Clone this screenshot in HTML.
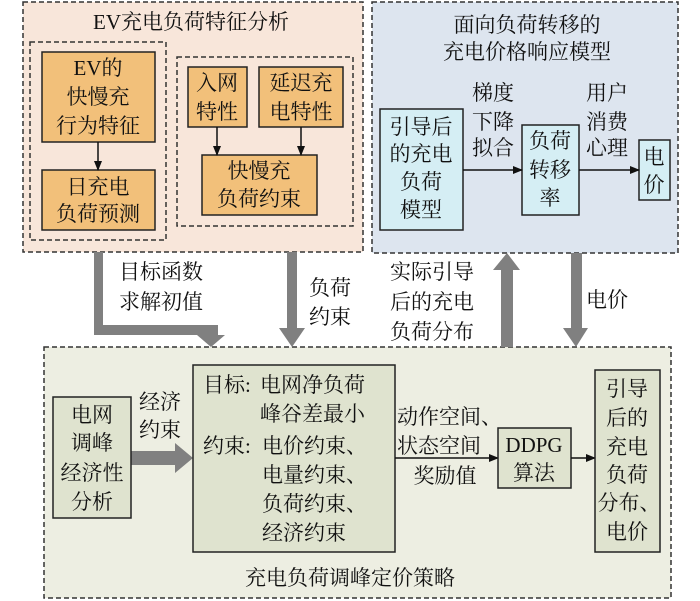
<!DOCTYPE html>
<html><head><meta charset="utf-8"><style>
html,body{margin:0;padding:0;background:#fff;}
svg{display:block;}
text{font-family:"Liberation Serif","Noto Serif CJK SC",serif;font-size:21px;fill:#111;dominant-baseline:central;}
.m{text-anchor:middle;}
</style></head><body>
<svg width="700" height="601" viewBox="0 0 700 601" xmlns="http://www.w3.org/2000/svg">
<defs>
<marker id="ah" markerWidth="10" markerHeight="10" refX="9" refY="5" orient="auto" markerUnits="userSpaceOnUse">
<path d="M0,1 L10,5 L0,9 z" fill="#111"/></marker>
</defs>
<!-- top-left -->
<rect x="23" y="2" width="340" height="250" fill="#f8e6da" stroke="#333" stroke-width="1.5" stroke-dasharray="5,3"/>
<text class="m" x="191" y="22">EV充电负荷特征分析</text>
<rect x="30" y="42" width="136" height="198" fill="none" stroke="#333" stroke-width="1.5" stroke-dasharray="5,3"/>
<rect x="177" y="57" width="176" height="169" fill="none" stroke="#333" stroke-width="1.5" stroke-dasharray="5,3"/>
<rect x="42" y="52" width="113" height="90" fill="#f2c07a" stroke="#222" stroke-width="1.5"/>
<text class="m" x="98" y="68">EV的</text><text class="m" x="98" y="97">快慢充</text><text class="m" x="98" y="126">行为特征</text>
<rect x="42" y="170" width="113" height="60" fill="#f2c07a" stroke="#222" stroke-width="1.5"/>
<text class="m" x="98" y="187">日充电</text><text class="m" x="98" y="214">负荷预测</text>
<rect x="188" y="67" width="59" height="60" fill="#f2c07a" stroke="#222" stroke-width="1.5"/>
<text class="m" x="217" y="83">入网</text><text class="m" x="217" y="112">特性</text>
<rect x="259" y="67" width="84" height="60" fill="#f2c07a" stroke="#222" stroke-width="1.5"/>
<text class="m" x="301" y="83">延迟充</text><text class="m" x="301" y="112">电特性</text>
<rect x="202" y="155" width="115" height="60" fill="#f2c07a" stroke="#222" stroke-width="1.5"/>
<text class="m" x="259" y="171">快慢充</text><text class="m" x="259" y="199">负荷约束</text>
<line x1="98" y1="142" x2="98" y2="170" stroke="#111" stroke-width="1.5" marker-end="url(#ah)"/>
<line x1="217" y1="127" x2="217" y2="155" stroke="#111" stroke-width="1.5" marker-end="url(#ah)"/>
<line x1="301" y1="127" x2="301" y2="155" stroke="#111" stroke-width="1.5" marker-end="url(#ah)"/>
<!-- top-right -->
<rect x="372" y="2" width="306" height="251" fill="#dde5ef" stroke="#333" stroke-width="1.5" stroke-dasharray="5,3"/>
<text class="m" x="527" y="25">面向负荷转移的</text><text class="m" x="527" y="52">充电价格响应模型</text>
<rect x="380" y="109" width="83" height="121" fill="#d5eef4" stroke="#222" stroke-width="1.5"/>
<text class="m" x="421" y="127">引导后</text><text class="m" x="421" y="154">的充电</text><text class="m" x="421" y="182">负荷</text><text class="m" x="421" y="210">模型</text>
<rect x="522" y="125" width="57" height="90" fill="#d5eef4" stroke="#222" stroke-width="1.5"/>
<text class="m" x="550" y="141">负荷</text><text class="m" x="550" y="170">转移</text><text class="m" x="550" y="198">率</text>
<rect x="639" y="140" width="31" height="60" fill="#d5eef4" stroke="#222" stroke-width="1.5"/>
<text class="m" x="654" y="157">电</text><text class="m" x="654" y="185">价</text>
<text class="m" x="493" y="93">梯度</text><text class="m" x="493" y="122">下降</text><text class="m" x="493" y="148">拟合</text>
<text class="m" x="607" y="93">用户</text><text class="m" x="607" y="122">消费</text><text class="m" x="607" y="148">心理</text>
<line x1="463" y1="170" x2="522" y2="170" stroke="#111" stroke-width="1.5" marker-end="url(#ah)"/>
<line x1="579" y1="170" x2="639" y2="170" stroke="#111" stroke-width="1.5" marker-end="url(#ah)"/>
<!-- bottom -->
<rect x="44" y="347" width="627" height="251" fill="#edeee2" stroke="#333" stroke-width="1.5" stroke-dasharray="5,3"/>
<!-- gray arrows -->
<g fill="#808080">
<path d="M94,252 H103 V325 H218 V335 H225 L211,347 L197,335 H206 V335 H94 Z"/>
<path d="M287,252 H297 V328 H305 L292,347 L279,328 H287 Z"/>
<path d="M501,347 V270 H493 L507,253 L520,270 H513 V347 Z"/>
<path d="M571,253 H582 V328 H588 L576,347 L563,328 H571 Z"/>
<path d="M131,451 H175 V443 L193,458 L175,473 V465 H131 Z"/>
</g>
<text class="m" x="161" y="272">目标函数</text><text class="m" x="161" y="302">求解初值</text>
<text class="m" x="330" y="288">负荷</text><text class="m" x="330" y="317">约束</text>
<text class="m" x="432" y="272">实际引导</text><text class="m" x="432" y="302">后的充电</text><text class="m" x="432" y="332">负荷分布</text>
<text class="m" x="607" y="300">电价</text>
<rect x="53" y="397" width="78" height="121" fill="#dfe3cf" stroke="#222" stroke-width="1.5"/>
<text class="m" x="92" y="415">电网</text><text class="m" x="92" y="443">调峰</text><text class="m" x="92" y="473">经济性</text><text class="m" x="92" y="502">分析</text>
<text class="m" x="160" y="402">经济</text><text class="m" x="160" y="430">约束</text>
<rect x="193" y="365" width="202" height="187" fill="#dfe3cf" stroke="#222" stroke-width="1.5"/>
<text x="203" y="385">目标:</text><text x="260" y="385">电网净负荷</text>
<text x="260" y="414">峰谷差最小</text>
<text x="203" y="446">约束:</text><text x="262" y="446">电价约束、</text>
<text x="262" y="475">电量约束、</text>
<text x="262" y="504">负荷约束、</text>
<text x="262" y="533">经济约束</text>
<text x="397" y="417">动作空间、</text><text x="397" y="446">状态空间</text><text class="m" x="445" y="476">奖励值</text>
<line x1="395" y1="458" x2="498" y2="458" stroke="#111" stroke-width="1.5" marker-end="url(#ah)"/>
<rect x="498" y="428" width="73" height="60" fill="#dfe3cf" stroke="#222" stroke-width="1.5"/>
<text class="m" x="534" y="445">DDPG</text><text class="m" x="534" y="473">算法</text>
<line x1="571" y1="458" x2="595" y2="458" stroke="#111" stroke-width="1.5" marker-end="url(#ah)"/>
<rect x="595" y="370" width="65" height="182" fill="#dfe3cf" stroke="#222" stroke-width="1.5"/>
<text class="m" x="627" y="389">引导</text><text class="m" x="627" y="418">后的</text><text class="m" x="627" y="447">充电</text><text class="m" x="627" y="475">负荷</text><text class="m" x="629" y="503">分布、</text><text class="m" x="627" y="532">电价</text>
<text class="m" x="350" y="578">充电负荷调峰定价策略</text>
</svg>
</body></html>
